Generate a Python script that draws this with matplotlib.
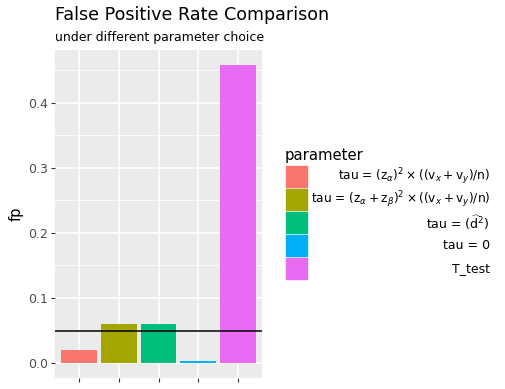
import matplotlib
matplotlib.use("Agg")
import matplotlib.pyplot as plt
from matplotlib.patches import Rectangle

plt.rcParams['mathtext.fontset'] = 'dejavusans'
plt.rcParams['font.family'] = ['DejaVu Sans']

categories = ["tau1", "tau2", "tau3", "tau0", "T_test"]
legend_labels = [
    r"tau = $(\mathrm{z}_\alpha)^2\times((\mathrm{v}_x+\mathrm{v}_y)/\mathrm{n})$",
    r"tau = $(\mathrm{z}_\alpha+\mathrm{z}_\beta)^2\times((\mathrm{v}_x+\mathrm{v}_y)/\mathrm{n})$",
    r"tau = $(\widehat{\mathrm{d}}^{2})$",
    "tau = 0",
    "T_test",
]
label_sizes = [8.7, 8.7, 9, 9, 9]
fp = [0.02, 0.06, 0.06, 0.003, 0.458]
threshold = 0.05
colors = ["#F8766D", "#A3A500", "#00BF7D", "#00B0F6", "#E76BF3"]
yticks = [0.0, 0.1, 0.2, 0.3, 0.4]

W, H = 506, 389
fig = plt.figure(figsize=(W/100, H/100), dpi=100)
ax = fig.add_axes([55/W, 1-378/H, (262-55)/W, (378-50)/H])
ax.set_facecolor("#EBEBEB")
x = list(range(1, len(fp)+1))
ax.bar(x, fp, width=0.9, color=colors, zorder=3)
ax.axhline(threshold, color="black", lw=1.1, zorder=4)
ymax = max(fp)
pad = ymax*0.05
ax.set_ylim(-pad, ymax+pad)
ax.set_xlim(0.4, len(fp)+0.6)
ax.set_xticks(x)
ax.set_xticklabels([])
ax.set_yticks(yticks)
ax.set_yticklabels([f"{v:.1f}" for v in yticks], color="#4D4D4D", fontsize=9)
ax.set_yticks([0.05, 0.15, 0.25, 0.35, 0.45], minor=True)
ax.grid(which="major", color="white", lw=1.1, zorder=0)
ax.grid(which="minor", axis="y", color="white", lw=0.55, zorder=0)
ax.tick_params(axis="y", which="major", length=3, color="#333333", width=0.8, pad=2)
ax.tick_params(axis="x", which="major", length=3, color="#333333", width=0.8)
ax.tick_params(which="minor", length=0)
for s in ax.spines.values():
    s.set_visible(False)
ax.set_axisbelow(True)
ax.set_ylabel("fp", fontsize=10.5, labelpad=3)

fig.text(55/W, 1-15/H, "False Positive Rate Comparison", fontsize=12.6, va="center", ha="left")
fig.text(55/W, 1-37/H, "under different parameter choice", fontsize=9, va="center", ha="left")

# legend
fig.text(285/W, 1-155/H, "parameter", fontsize=10.7, va="center", ha="left")
for i, (lab, c, fs) in enumerate(zip(legend_labels, colors, label_sizes)):
    top = 166 + i*23
    fig.patches.append(Rectangle((286/W, 1-(top+21)/H), 21/W, 21/H, transform=fig.transFigure,
                                 color=c, figure=fig))
    fig.text(490/W, 1-(top+10.5)/H, lab, fontsize=fs, va="center", ha="right")

fig.savefig("out.png", dpi=100)
